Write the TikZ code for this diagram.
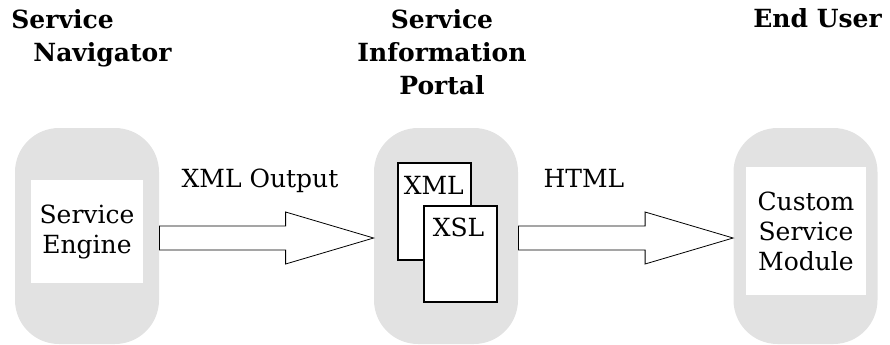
\documentclass[tikz,border=0pt]{standalone}
\usepackage{fontspec}
\setmainfont{DejaVu Serif}
\usepackage{xcolor}
\usetikzlibrary{calc,positioning}
\definecolor{pillgray}{HTML}{E2E2E2}

\tikzset{
  pill/.style={fill=pillgray,rounded corners=22pt,minimum width=72pt,minimum height=108pt,inner sep=0pt},
  whitebox/.style={fill=white,inner sep=0pt,align=center,font=\bodyfont},
  docbox/.style={draw=black,fill=white,line width=0.6pt,minimum width=36.5pt,inner sep=0pt},
  hollow/.style={draw=black,fill=white,line width=0.4pt,line join=miter},
  title/.style={inner sep=0pt,font=\titlefont},
  flowlabel/.style={inner sep=0pt,anchor=base,font=\bodyfont}
}
\newcommand{\bodyfont}{\fontsize{12.5}{15}\selectfont}
\newcommand{\titlefont}{\bfseries\fontsize{12.5}{16.5}\selectfont}

\begin{document}
\begin{tikzpicture}[x=0.5pt,y=-0.5pt]
\useasboundingbox (0,0) rectangle (890,344);
\newcommand*{\hl}{88}; \newcommand*{\hw}{26}; \newcommand*{\sw}{12};
\newcommand{\hollowarrow}[2]{%
  \draw[hollow] ($(#1)+(0,-\sw)$) -- ($(#2)+(-\hl,-\sw)$) -- ($(#2)+(-\hl,-\hw)$)
    -- (#2) -- ($(#2)+(-\hl,\hw)$) -- ($(#2)+(-\hl,\sw)$) -- ($(#1)+(0,\sw)$) -- cycle;}
% columns
\node[pill] (nav) at (87,236) {};
\node[pill] (sip) at (446,236) {};
\node[pill] (usr) at (805.5,236) {};
% titles
\node[title,anchor=north west,align=left] (navt) at (11,9) {Service\\\hspace*{11pt}Navigator};
\node[title,anchor=north,align=center] (sipt) at (442,9) {Service\\Information\\Portal};
\node[title,anchor=north west] (usrt) at (753,8) {End User};
% contents
\node[whitebox,minimum width=56pt,minimum height=51.5pt] (engine) at (87,231.5) {Service\\Engine};
\node[whitebox,minimum width=60pt,minimum height=64pt] (module) at (806,231) {Custom\\Service\\Module};
\node[docbox,minimum height=48.5pt] (xml) at (434.5,211.5) {};
\node[docbox,minimum height=48pt] (xsl) at (460.5,254) {};
\node[flowlabel,anchor=base west] at ($(xml.north west)+(6,32)$) {XML};
\node[flowlabel,anchor=base west] at ($(xsl.north west)+(9,31)$) {XSL};
% flows
\coordinate (o1) at ($(nav.east)+(0,2)$);
\coordinate (i1) at ($(sip.west)+(0,2)$);
\coordinate (o2) at ($(sip.east)+(0,2)$);
\coordinate (i2) at ($(usr.west)+(0,2)$);
\hollowarrow{o1}{i1}
\hollowarrow{o2}{i2}
\node[flowlabel] (xmlout) at (260,187) {XML Output};
\node[flowlabel] (html) at (584,187) {HTML};
\end{tikzpicture}
\end{document}
